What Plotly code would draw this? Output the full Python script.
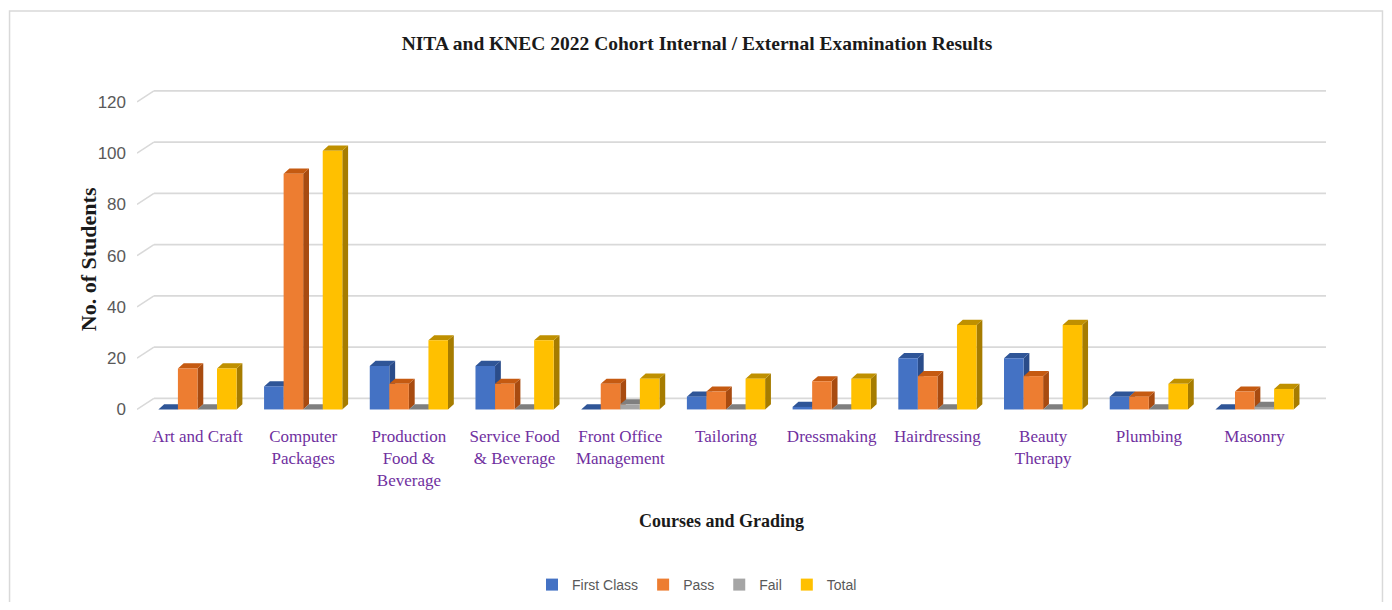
import plotly.graph_objects as go

# ---------------- data ----------------
categories = ["Art and Craft", "Computer Packages", "Production Food & Beverage",
              "Service Food & Beverage", "Front Office Management", "Tailoring",
              "Dressmaking", "Hairdressing", "Beauty Therapy", "Plumbing", "Masonry"]
tick_labels = ["Art and Craft", "Computer<br>Packages", "Production<br>Food &<br>Beverage",
               "Service Food<br>& Beverage", "Front Office<br>Management", "Tailoring",
               "Dressmaking", "Hairdressing", "Beauty<br>Therapy", "Plumbing", "Masonry"]
series_names = ["First Class", "Pass", "Fail", "Total"]
first_class = [0, 9, 17, 17, 0, 5, 1, 20, 20, 5, 0]
pass_count = [16, 92, 10, 10, 10, 7, 11, 13, 13, 5, 7]
fail_count = [0, 0, 0, 0, 2, 0, 0, 0, 0, 0, 1]
total = [16, 101, 27, 27, 12, 12, 12, 33, 33, 10, 8]
y_ticks = [0, 20, 40, 60, 80, 100, 120]

series_values = [first_class, pass_count, fail_count, total]
front_colors = ["#4472C4", "#ED7D31", "#A5A5A5", "#FFC000"]
top_colors = ["#2F5597", "#C55A11", "#7F7F7F", "#BF9000"]
side_colors = ["#2A4C8A", "#A84B10", "#6E6E6E", "#A67C00"]

# ---------------- geometry (styling) ----------------
bar_w = 0.185          # bar width in category units
depth_dx = 0.055       # 3-D depth, x (category units)
depth_dy = 2.0         # 3-D depth, y (value units)
wall_dx = 0.16         # back wall offset for gridlines
wall_dy = 4.3
x_range = [-0.572, 10.676]
y_range = [-1, 127]

xs = list(range(len(categories)))

fig = go.Figure()

# side and top faces (base axes), drawn series by series
for i, vals in enumerate(series_values):
    off = -2 * bar_w + i * bar_w
    sx, sy, tx, ty = [], [], [], []
    for x, v in zip(xs, vals):
        xl = x + off
        xr = xl + bar_w
        sx += [xr, xr + depth_dx, xr + depth_dx, xr, xr, None]
        sy += [0, depth_dy, v + depth_dy, v, 0, None]
        tx += [xl, xr, xr + depth_dx, xl + depth_dx, xl, None]
        ty += [v, v, v + depth_dy, v + depth_dy, v, None]
    fig.add_trace(go.Scatter(x=sx, y=sy, mode="lines", fill="toself",
                             fillcolor=side_colors[i], line=dict(width=0, color=side_colors[i]),
                             hoverinfo="skip", showlegend=False, xaxis="x", yaxis="y"))
    fig.add_trace(go.Scatter(x=tx, y=ty, mode="lines", fill="toself",
                             fillcolor=top_colors[i], line=dict(width=0, color=top_colors[i]),
                             hoverinfo="skip", showlegend=False, xaxis="x", yaxis="y"))

# front faces (overlay axes so they sit above all side/top faces)
for i, (name, vals) in enumerate(zip(series_names, series_values)):
    fig.add_trace(go.Bar(x=xs, y=vals, name=name, width=bar_w,
                         offset=-2 * bar_w + i * bar_w,
                         marker=dict(color=front_colors[i], line=dict(width=0)),
                         xaxis="x2", yaxis="y2"))

# back-wall gridlines
shapes = []
for v in y_ticks:
    shapes.append(dict(type="line", xref="x", yref="y", layer="below",
                       x0=x_range[0], y0=v, x1=x_range[0] + wall_dx, y1=v + wall_dy,
                       line=dict(color="#D9D9D9", width=1.6)))
    shapes.append(dict(type="line", xref="x", yref="y", layer="below",
                       x0=x_range[0] + wall_dx, y0=v + wall_dy, x1=x_range[1], y1=v + wall_dy,
                       line=dict(color="#D9D9D9", width=1.6)))
# outer chart border
shapes.append(dict(type="rect", xref="paper", yref="paper",
                   x0=-0.1072, y0=-0.62, x1=1.0475, y1=1.2226,
                   line=dict(color="#D9D9D9", width=1.5), fillcolor="rgba(0,0,0,0)"))

serif = "Liberation Serif, Times New Roman, serif"
sans = "Liberation Sans, Arial, sans-serif"

FIG_W, FIG_H = 1376, 594   # page body has an 8px margin

annotations = [
    dict(text="<b>No. of Students</b>", xref="paper", yref="paper",
         x=-0.0412, y=0.466, textangle=-90, showarrow=False,
         xanchor="center", yanchor="middle",
         font=dict(family=serif, size=22, color="#1A1A1A")),
    dict(text="<b>Courses and Grading</b>", xref="paper", yref="paper",
         x=0.492, y=-0.332, showarrow=False, xanchor="center", yanchor="middle",
         font=dict(family=serif, size=18, color="#1A1A1A")),
]

fig.update_layout(
    width=FIG_W, height=FIG_H,
    margin=dict(l=129, r=58, t=76, b=190),
    paper_bgcolor="white", plot_bgcolor="white",
    barmode="overlay",
    title=dict(text="<b>NITA and KNEC 2022 Cohort Internal / External Examination Results</b>",
               x=(697 - 8) / FIG_W, xref="container", xanchor="center",
               y=1 - 35 / FIG_H, yref="container", yanchor="middle",
               font=dict(family=serif, size=19.5, color="#1A1A1A")),
    xaxis=dict(range=x_range, tickmode="array", tickvals=xs, ticktext=tick_labels,
               showgrid=False, zeroline=False, showline=False, ticks="",
               ticklabelstandoff=12,
               tickfont=dict(family=serif, size=17, color="#7030A0")),
    yaxis=dict(range=y_range, tickmode="array", tickvals=y_ticks,
               showgrid=False, zeroline=False, showline=False, ticks="",
               ticklabelstandoff=10,
               tickfont=dict(family=sans, size=17, color="#595959")),
    xaxis2=dict(range=x_range, overlaying="x", anchor="y2", visible=False),
    yaxis2=dict(range=y_range, overlaying="y", anchor="x2", visible=False),
    legend=dict(orientation="h", xref="container", yref="container",
                x=(697 - 8) / FIG_W, xanchor="center", y=1 - 577 / FIG_H, yanchor="middle",
                font=dict(family=sans, size=14, color="#595959"),
                itemwidth=30, tracegroupgap=0),
    annotations=annotations,
    shapes=shapes,
    showlegend=True,
)

fig.write_html("out.html")
